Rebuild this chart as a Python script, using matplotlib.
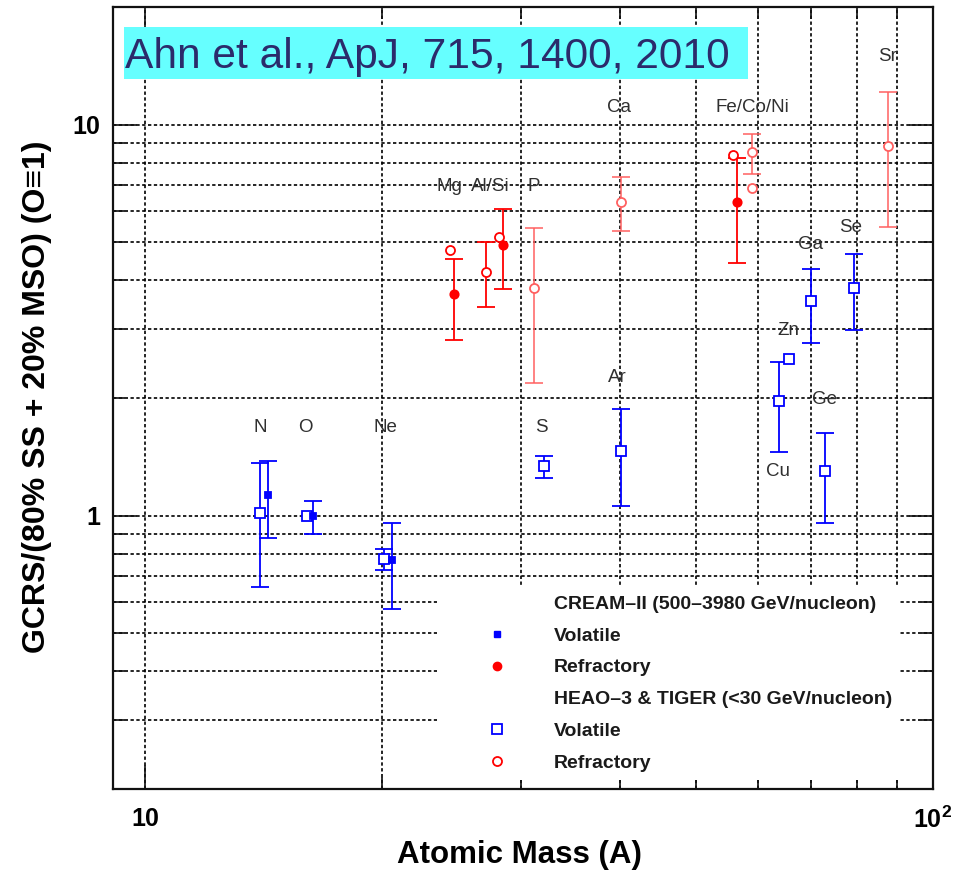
import numpy as np
import matplotlib
matplotlib.use("Agg")
import matplotlib.pyplot as plt
from matplotlib.lines import Line2D
from matplotlib.patches import Rectangle
from matplotlib.ticker import LogLocator, NullFormatter

plt.rcParams['font.family'] = ['Liberation Sans', 'DejaVu Sans']
plt.rcParams['mathtext.fontset'] = 'custom'
plt.rcParams['mathtext.rm'] = 'Liberation Sans'
plt.rcParams['mathtext.bf'] = 'Liberation Sans:bold'

# ---- CREAM-II (500-3980 GeV/nucleon) ----
cream_vol_A = [14.33, 16.34, 20.56]          # N, O, Ne
cream_vol_y = [1.127, 1.000, 0.772]
cream_vol_lo = [0.877, 0.898, 0.577]
cream_vol_hi = [1.377, 1.092, 0.958]

cream_ref_A = [24.65, 28.48, 56.36]          # Mg, Al/Si, Fe/Co/Ni
cream_ref_y = [3.69, 4.93, 6.36]
cream_ref_lo = [2.82, 3.80, 4.44]
cream_ref_hi = [4.53, 6.10, 8.20]

# ---- HEAO-3 & TIGER (<30 GeV/nucleon) ----
# N, O, Ne, S, Ar, Cu, Zn, Ga, Ge, Se
heao_vol_A = [14.00, 16.05, 20.10, 32.11, 40.15, 63.67, 65.56, 69.98, 72.98, 79.30]
heao_vol_y = [1.014, 1.000, 0.775, 1.337, 1.466, 1.96, 2.52, 3.55, 1.298, 3.82]
heao_vol_lo = [0.659, np.nan, 0.727, 1.251, 1.061, 1.458, np.nan, 2.77, 0.958, 2.99]
heao_vol_hi = [1.364, np.nan, 0.822, 1.424, 1.875, 2.47, np.nan, 4.28, 1.627, 4.68]

# Mg, Al, Si, Fe
heao_ref_A = [24.36, 27.04, 28.10, 55.80]
heao_ref_y = [4.79, 4.21, 5.15, 8.38]
heao_ref_lo = [np.nan, 3.41, np.nan, np.nan]
heao_ref_hi = [np.nan, 5.00, np.nan, np.nan]

# P, Ca, Co, Ni, Sr
tiger_ref_A = [31.15, 40.22, 59.00, 58.85, 87.80]
tiger_ref_y = [3.82, 6.34, 8.50, 6.87, 8.80]
tiger_ref_lo = [2.19, 5.36, 7.48, np.nan, 5.46]
tiger_ref_hi = [5.44, 7.35, 9.47, np.nan, 12.12]

element_labels = [
    ("N", 14.0, 1.68), ("O", 15.97, 1.68), ("Ne", 20.2, 1.68),
    ("Mg", 24.3, 6.94), ("Al/Si", 27.45, 6.94), ("P", 31.1, 6.94),
    ("S", 31.88, 1.68), ("Ca", 39.9, 11.05), ("Ar", 39.8, 2.25),
    ("Fe/Co/Ni", 59.0, 11.05), ("Sr", 87.6, 14.93), ("Se", 78.6, 5.45),
    ("Ga", 70.0, 4.93), ("Zn", 65.6, 2.97), ("Ge", 72.8, 1.98),
    ("Cu", 63.5, 1.30),
]

BLUE = '#0000ff'
RED = '#ff0000'
LIGHT_RED = '#ff6060'

fig = plt.figure(figsize=(9.55, 8.73), dpi=100)
ax = fig.add_axes([113 / 955, 1 - 789 / 873, 820 / 955, 782 / 873])
ax.set_xscale('log')
ax.set_yscale('log')
ax.set_xlim(9.1, 100)
ax.set_ylim(0.2, 20)


def draw(A, y, lo, hi, color, marker, filled, ms, lw=1.3):
    A = np.asarray(A, float)
    y = np.asarray(y, float)
    lo = np.asarray(lo, float)
    hi = np.asarray(hi, float)
    yerr = np.vstack([y - lo, hi - y])
    ax.errorbar(A, y, yerr=yerr, fmt='none', ecolor=color, elinewidth=lw,
                capsize=6.8, capthick=lw, zorder=3)
    ax.plot(A, y, ls='none', marker=marker, ms=ms, mew=1.3,
            mec=color, mfc=color if filled else 'white', zorder=4)


draw(heao_vol_A, heao_vol_y, heao_vol_lo, heao_vol_hi, BLUE, 's', False, 6.8)
draw(heao_ref_A, heao_ref_y, heao_ref_lo, heao_ref_hi, RED, 'o', False, 6.5)
draw(tiger_ref_A, tiger_ref_y, tiger_ref_lo, tiger_ref_hi, LIGHT_RED, 'o', False, 6.5, lw=1.1)
draw(cream_vol_A, cream_vol_y, cream_vol_lo, cream_vol_hi, BLUE, 's', True, 5.0)
draw(cream_ref_A, cream_ref_y, cream_ref_lo, cream_ref_hi, RED, 'o', True, 6.0)

for name, xa, ya in element_labels:
    ax.text(xa, ya, name, ha='center', va='center', fontsize=13.5,
            color='#303030', zorder=5)

# grid and ticks
ax.set_axisbelow(True)
ax.xaxis.set_minor_locator(LogLocator(base=10, subs=np.arange(2, 10)))
ax.yaxis.set_minor_locator(LogLocator(base=10, subs=np.arange(2, 10)))
ax.xaxis.set_minor_formatter(NullFormatter())
ax.yaxis.set_minor_formatter(NullFormatter())
ax.set_xticks([10, 100], ['10', r'$\mathbf{10^{2}}$'])
ax.set_yticks([1, 10], ['1', '10'])
ax.grid(True, which='both', ls=(0, (2.0, 1.5)), lw=1.2, color='black')
ax.tick_params(which='both', direction='in', top=True, right=True,
               width=1.2, color='#111111')
ax.tick_params(which='major', length=17, labelsize=18)
ax.tick_params(which='minor', length=8.5)
ax.tick_params(axis='x', which='major', pad=13)
ax.tick_params(axis='y', which='major', pad=9)
for lab in ax.get_xticklabels() + ax.get_yticklabels():
    lab.set_fontweight('bold')
for sp in ax.spines.values():
    sp.set_linewidth(1.6)
    sp.set_color('#111111')

ax.set_xlabel('Atomic Mass (A)', fontsize=22.5, fontweight='bold')
ax.set_ylabel('GCRS/(80% SS + 20% MSO) (O\u22611)', fontsize=23, fontweight='bold')
ax.xaxis.set_label_coords(0.496, -0.0844)
ax.xaxis.label.set_va('center')
ax.yaxis.set_label_coords(-0.0927, 0.502)
ax.yaxis.label.set_va('center')

# legend
blank = Line2D([], [], ls='none', marker=None)
handles = [
    blank,
    Line2D([], [], ls='none', marker='s', ms=5, mfc=BLUE, mec=BLUE),
    Line2D([], [], ls='none', marker='o', ms=6, mfc=RED, mec=RED),
    blank,
    Line2D([], [], ls='none', marker='s', ms=6.8, mfc='white', mec=BLUE, mew=1.3),
    Line2D([], [], ls='none', marker='o', ms=6.5, mfc='white', mec=RED, mew=1.3),
]
labels = ['CREAM\u2013II (500\u20133980 GeV/nucleon)', 'Volatile', 'Refractory',
          'HEAO\u20133 & TIGER (<30 GeV/nucleon)', 'Volatile', 'Refractory']
leg = ax.legend(handles, labels, loc='upper left',
                bbox_to_anchor=((437 - 113) / 820, (789 - 587) / 782),
                borderaxespad=0, borderpad=0.42, handlelength=5.33,
                handletextpad=0.27, labelspacing=0.73, frameon=True,
                fancybox=False, framealpha=1,
                prop={'weight': 'bold', 'size': 14})
leg.get_frame().set_facecolor('white')
leg.get_frame().set_edgecolor('none')
leg.set_zorder(6)
for t in leg.get_texts():
    t.set_color('#1a1a1a')

# citation banner
fig.patches.append(Rectangle((124 / 955, 1 - 79 / 873), (748 - 124) / 955, 52 / 873,
                             transform=fig.transFigure, facecolor='#66ffff',
                             edgecolor='none', zorder=10))
fig.text(125 / 955, 1 - 68 / 873, 'Ahn et al., ApJ, 715, 1400, 2010',
         fontsize=30.6, color='#2b2b6b', ha='left', va='baseline', zorder=11)

fig.savefig('out.png', dpi=100)
